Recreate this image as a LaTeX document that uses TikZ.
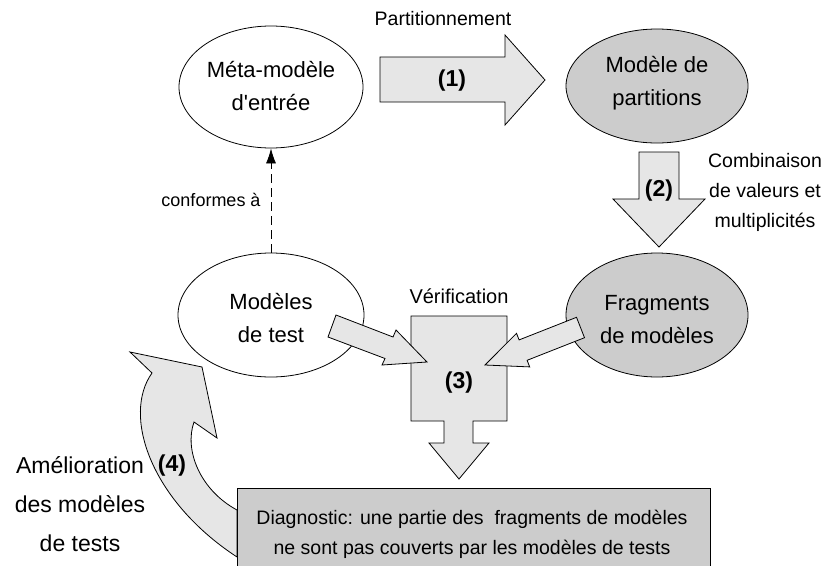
\documentclass[tikz,border=0pt]{standalone}
\usepackage{fontspec}
\setmainfont{Liberation Sans}
\usetikzlibrary{shapes.geometric,arrows.meta}
\definecolor{ellgray}{HTML}{CCCCCC}
\definecolor{arrgray}{HTML}{E6E6E6}
\tikzset{
  ell/.style={ellipse, draw, line width=0.8pt, inner sep=0pt},
  blockarr/.style={draw, fill=arrgray, line width=0.8pt, line join=miter},
  bigtxt/.style={font=\fontsize{22}{33}\selectfont, align=center, inner sep=0pt},
  smalltxt/.style={font=\fontsize{19.5}{30}\selectfont, align=center, inner sep=0pt},
  numtxt/.style={font=\fontsize{23}{26}\selectfont\bfseries, inner sep=0pt},
}
\begin{document}
\begin{tikzpicture}[x=1pt,y=-1pt]
\useasboundingbox (0,0) rectangle (834,565);
\clip (0,0) rectangle (834,565);
% ellipses
\node[ell, minimum width=184pt, minimum height=122pt] (meta) at (271,87) {};
\node[ell, fill=ellgray, minimum width=182pt, minimum height=114pt] (part) at (657,86) {};
\node[ell, minimum width=186pt, minimum height=124pt] (test) at (271,315) {};
\node[ell, fill=ellgray, minimum width=182pt, minimum height=124pt] (frag) at (657,315) {};
\node[bigtxt] (metat) at (271,86) {Méta-modèle\\d\textquotesingle entrée};
\node[bigtxt] (partt) at (657,83.5) {Modèle de\\partitions};
\node[bigtxt] (testt) at (271,318) {Modèles\\de test};
\node[bigtxt] (fragt) at (657,319.5) {Fragments\\de modèles};
% dashed conformity arrow
\draw[dashed, dash pattern=on 9pt off 5pt, line width=0.8pt, -{Latex[length=15pt,width=10pt]}] (test) -- (meta);
\node[smalltxt, font=\fontsize{18}{24}\selectfont] (conf) at (211,200) {conformes à};
% arrow (1)
\draw[blockarr] (380,57) -- (505,57) -- (505,35) -- (545,80) -- (505,125) -- (505,102) -- (380,102) -- cycle;
\node[numtxt] (n1) at (452,81) {(1)};
\node[smalltxt] (partl) at (443,19) {Partitionnement};
% arrow (2)
\draw[blockarr] (639,152) -- (679,152) -- (679,199) -- (705,199) -- (659,247) -- (613,199) -- (639,199) -- cycle;
\node[numtxt] (n2) at (659,191) {(2)};
\node[smalltxt] (comb) at (765,192) {Combinaison\\de valeurs et\\multiplicités};
% verification
\draw[blockarr] (411,316) -- (507,316) -- (507,421) -- (473,421) -- (473,443) -- (489,443) -- (459,479) -- (429,443) -- (444,443) -- (444,421) -- (411,421) -- cycle;
\node[smalltxt, font=\fontsize{20}{24}\selectfont] (verif) at (459,296) {Vérification};
\node[numtxt] (n3) at (459,383) {(3)};
% arrows into verification
\draw[blockarr] (336,315) -- (393,337) -- (396,330) -- (427,362) -- (382,365) -- (385,358.5) -- (328,337) -- cycle;
\draw[blockarr] (576.5,317.3) -- (519.1,339.9) -- (516.5,333.3) -- (485,365) -- (529.7,366.9) -- (527.1,360.3) -- (584.5,337.7) -- cycle;
% arrow (4)
\draw[blockarr] (237,510) .. controls (200,490) and (184,450) .. (194,422) -- (217,438) -- (202,367) -- (130,352) -- (152,373) .. controls (122,415) and (150,500) .. (237,557) -- cycle;
\node[numtxt] (n4) at (172,466) {(4)};
\node[bigtxt, font=\fontsize{23}{39}\selectfont] (amel) at (80,504.5) {Amélioration\\des modèles\\de tests};
% diagnostic box
\node[draw, fill=ellgray, line width=0.8pt, anchor=north west, minimum width=473pt, minimum height=120pt, inner sep=0pt] (diag) at (237,488) {};
\node[smalltxt] (diagt) at (472,534.5) {Diagnostic: une partie des~ fragments de modèles\\ne sont pas couverts par les modèles de tests};
\end{tikzpicture}
\end{document}
